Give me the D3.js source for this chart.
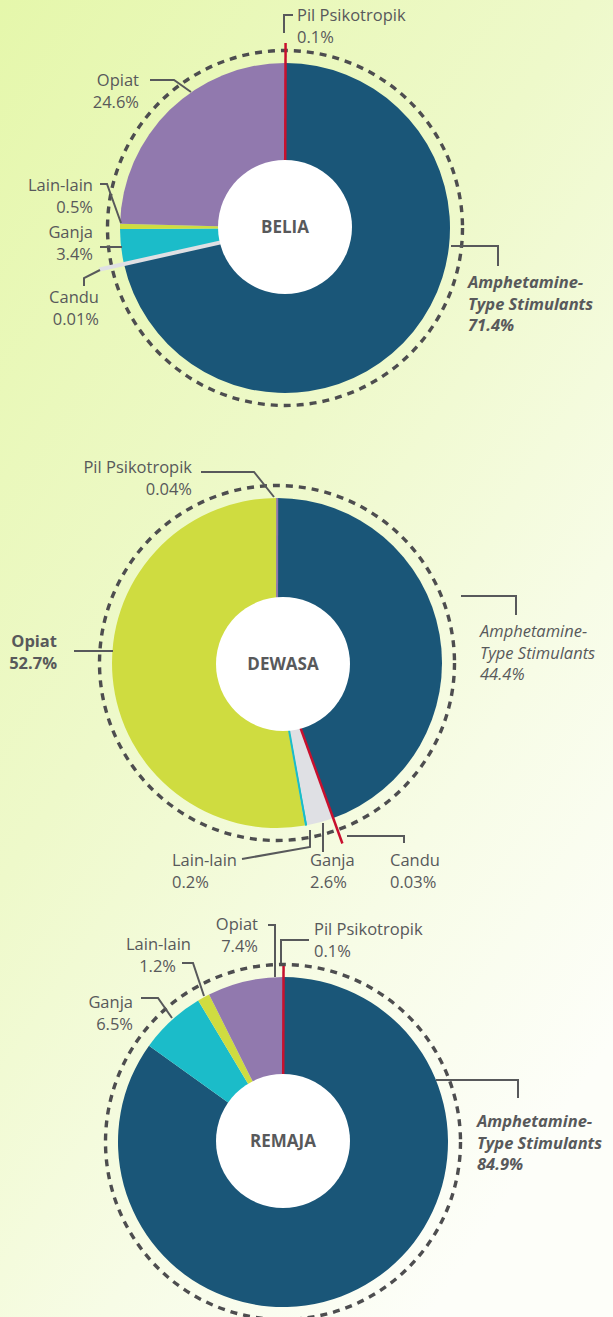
<!DOCTYPE html>
<html>
<head>
<meta charset="utf-8">
<script src="https://cdn.jsdelivr.net/npm/d3@7"></script>
<style>
  body { margin: 0; }
  svg { display: block; }
  text { font-family: "Open Sans", sans-serif; fill: #58595b; }
</style>
</head>
<body>
<svg id="chart"></svg>
<script>
// données (pourcentages)
const beliaCategories = ["Pil Psikotropik", "Amphetamine-Type Stimulants", "Candu", "Ganja", "Lain-lain", "Opiat"];
const beliaValues = [0.1, 71.4, 0.01, 3.4, 0.5, 24.6];

const dewasaCategories = ["Pil Psikotropik", "Amphetamine-Type Stimulants", "Candu", "Ganja", "Lain-lain", "Opiat"];
const dewasaValues = [0.04, 44.4, 0.03, 2.6, 0.2, 52.7];

const remajaCategories = ["Pil Psikotropik", "Amphetamine-Type Stimulants", "Ganja", "Lain-lain", "Opiat"];
const remajaValues = [0.1, 84.9, 6.5, 1.2, 7.4];

const W = 613, H = 1317;
const svg = d3.select("#chart").attr("width", W).attr("height", H);

// fond dégradé
const defs = svg.append("defs");
const grad = defs.append("linearGradient").attr("id", "bg")
  .attr("x1", 0).attr("y1", 0).attr("x2", 0.7).attr("y2", 1);
grad.append("stop").attr("offset", 0).attr("stop-color", "#e5f7ab");
grad.append("stop").attr("offset", 0.45).attr("stop-color", "#eef9ca");
grad.append("stop").attr("offset", 0.75).attr("stop-color", "#f7fce6");
grad.append("stop").attr("offset", 1).attr("stop-color", "#fdfef9");
svg.append("rect").attr("width", W).attr("height", H).attr("fill", "url(#bg)");

const BLUE = "#1a5678", PURPLE = "#9179ae", CYAN = "#1bbcc9",
      LIME = "#cfdc40", GREY = "#dfe0e4", RED = "#c8102e";

const charts = [
  {
    title: "BELIA", cats: beliaCategories, vals: beliaValues,
    cx: 285, cy: 228, hole: [285, 227],
    colors: [RED, BLUE, GREY, CYAN, LIME, PURPLE],
    spikes: { "Pil Psikotropik": [185, 2.5], "Candu": [190, 4] },
    labels: {
      "Pil Psikotropik": { x: 297, y: 21, a: "start", leader: [[284, 33], [284, 15], [293, 15]] },
      "Opiat": { x: 139, y: 86, a: "end", leader: [[150, 80], [174, 80], [191, 92]] },
      "Lain-lain": { x: 93, y: 191, a: "end", leader: [[100, 184], [107, 184], [121, 223]] },
      "Ganja": { x: 93, y: 238, a: "end", leader: [[100, 247], [122, 247]] },
      "Candu": { x: 99, y: 303, a: "end", leader: [[84, 286], [84, 278], [100, 270]] },
      "Amphetamine-Type Stimulants": { x: 468, y: 288, a: "start", bold: true, italic: true,
        leader: [[451, 246], [498, 246], [498, 266]] }
    }
  },
  {
    title: "DEWASA", cats: dewasaCategories, vals: dewasaValues,
    cx: 277, cy: 663, hole: [283, 664],
    colors: [PURPLE, BLUE, RED, GREY, CYAN, LIME],
    spikes: { "Pil Psikotropik": [165, 2], "Candu": [192, 2.5], "Lain-lain": [165, 2] },
    labels: {
      "Pil Psikotropik": { x: 192, y: 473, a: "end", leader: [[201, 472], [254, 472], [274, 497]] },
      "Amphetamine-Type Stimulants": { x: 480, y: 637, a: "start", italic: true,
        leader: [[461, 596], [516, 596], [516, 615]] },
      "Opiat": { x: 57, y: 647, a: "end", bold: true, leader: [[74, 651], [113, 651]] },
      "Lain-lain": { x: 172, y: 866, a: "start", leader: [[242, 859], [310, 847], [310, 830]] },
      "Ganja": { x: 310, y: 866, a: "start", leader: [[323, 823], [323, 852]] },
      "Candu": { x: 390, y: 866, a: "start", leader: [[347, 836], [404, 836], [404, 843]] }
    }
  },
  {
    title: "REMAJA", cats: remajaCategories, vals: remajaValues,
    cx: 283, cy: 1142, hole: [283, 1141],
    colors: [RED, BLUE, CYAN, LIME, PURPLE],
    spikes: { "Pil Psikotropik": [176, 2.5] },
    labels: {
      "Opiat": { x: 258, y: 930, a: "end", leader: [[268, 925], [275, 925], [275, 977]] },
      "Pil Psikotropik": { x: 314, y: 935, a: "start", leader: [[309, 940], [281, 940], [281, 963]] },
      "Lain-lain": { x: 191, y: 950, a: "end", pctX: 176, leader: [[182, 963], [193, 963], [204, 996]] },
      "Ganja": { x: 133, y: 1008, a: "end", leader: [[141, 998], [158, 998], [172, 1018]] },
      "Amphetamine-Type Stimulants": { x: 477, y: 1127, a: "start", bold: true, italic: true,
        leader: [[436, 1080], [518, 1080], [518, 1098]] }
    }
  }
];

const R = 165, HOLE = 67, DASH_R = 177.5;
const pie = d3.pie().sort(null).startAngle(0).endAngle(2 * Math.PI).value(d => d.v);
const arc = d3.arc().innerRadius(0).outerRadius(R);
const line = d3.line();

charts.forEach(c => {
  const color = d3.scaleOrdinal().domain(c.cats).range(c.colors);
  const data = pie(c.vals.map((v, i) => ({ cat: c.cats[i], v })));

  const g = svg.append("g").attr("transform", `translate(${c.cx},${c.cy})`);

  // cercle pointillé
  g.append("circle").attr("r", DASH_R)
    .attr("fill", "none").attr("stroke", "#4d4d4f")
    .attr("stroke-width", 3.4).attr("stroke-dasharray", "7 6");

  // parts
  g.selectAll("path.slice").data(data).join("path")
    .attr("class", "slice")
    .attr("d", arc)
    .attr("fill", d => color(d.data.cat));

  // petites parts dessinées comme des traits
  data.filter(d => c.spikes[d.data.cat]).forEach(d => {
    const [len, w] = c.spikes[d.data.cat];
    const ang = (d.startAngle + d.endAngle) / 2;
    g.append("line")
      .attr("x1", 0).attr("y1", 0)
      .attr("x2", len * Math.sin(ang)).attr("y2", -len * Math.cos(ang))
      .attr("stroke", color(d.data.cat)).attr("stroke-width", w);
  });

  // trou central
  svg.append("circle").attr("cx", c.hole[0]).attr("cy", c.hole[1]).attr("r", HOLE).attr("fill", "#fff");
  svg.append("text").attr("x", c.hole[0]).attr("y", c.hole[1] + 6)
    .attr("text-anchor", "middle").attr("font-size", 17).attr("font-weight", 700)
    .text(c.title);

  // étiquettes
  data.forEach(d => {
    const L = c.labels[d.data.cat];
    if (!L) return;
    svg.append("path").attr("d", line(L.leader))
      .attr("fill", "none").attr("stroke", "#58595b").attr("stroke-width", 2);
    const lines = d.data.cat.split(/(?<=-)(?=Type)/);
    lines.push(d.data.v + "%");
    const t = svg.append("text")
      .attr("text-anchor", L.a)
      .attr("font-size", 16.5)
      .attr("font-weight", L.bold ? 700 : 400)
      .attr("font-style", L.italic ? "italic" : "normal");
    lines.forEach((s, i) => {
      t.append("tspan")
        .attr("x", (i === lines.length - 1 && L.pctX) ? L.pctX : L.x)
        .attr("y", L.y + i * 21.5)
        .text(s);
    });
  });
});
</script>
</body>
</html>
